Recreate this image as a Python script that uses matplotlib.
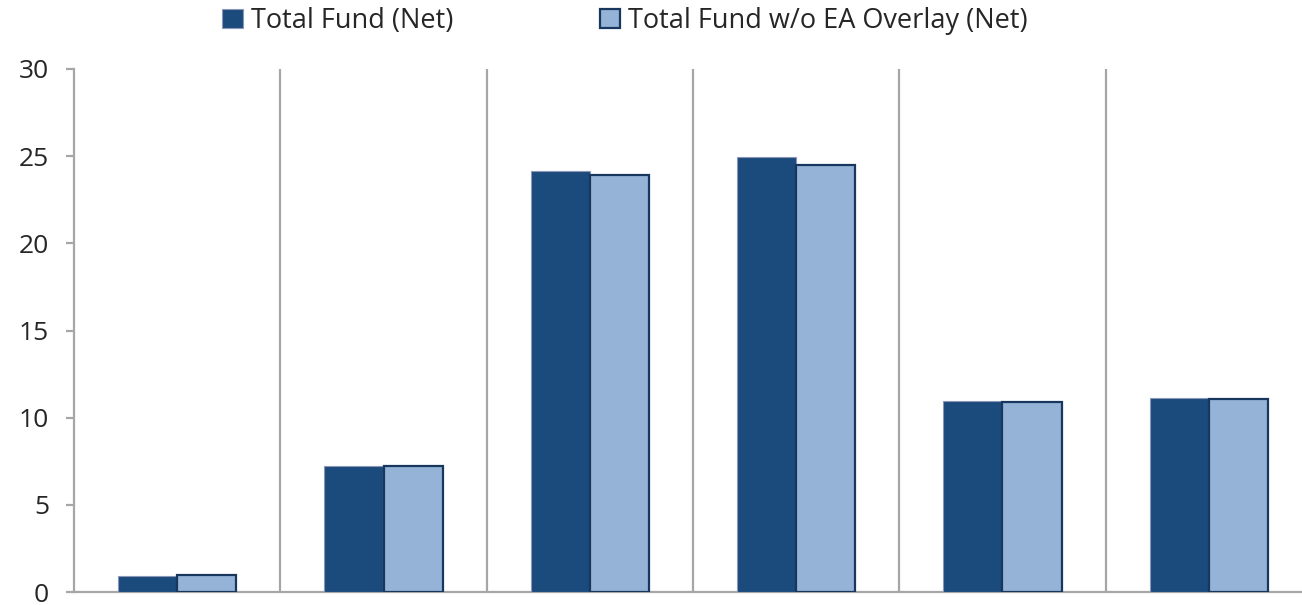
import matplotlib
matplotlib.use("Agg")
import matplotlib.pyplot as plt
import numpy as np
from matplotlib.patches import Patch

plt.rcParams['font.family'] = ['Open Sans', 'DejaVu Sans']

series_names = ["Total Fund (Net)", "Total Fund w/o EA Overlay (Net)"]
categories = ["1", "2", "3", "4", "5", "6"]
total_fund = [0.9, 7.2, 24.15, 24.95, 10.95, 11.1]
total_fund_wo_overlay = [1.0, 7.2, 23.9, 24.5, 10.9, 11.05]
y_ticks = [0, 5, 10, 15, 20, 25, 30]

dark = "#1B4A7C"
light = "#95B3D7"
edge_light = "#17375E"
grey = "#A6A6A6"

fig = plt.figure(figsize=(13.02, 6.05), dpi=100)
ax = fig.add_axes([74 / 1302, (605 - 592) / 605, 1238 / 1302, 523 / 605])

x = np.arange(len(categories))
w = 0.286
ax.bar(x - w / 2, total_fund, width=w, color=dark, edgecolor="#8C97B8", linewidth=0.8, zorder=3)
ax.bar(x + w / 2, total_fund_wo_overlay, width=w, color=light, edgecolor=edge_light, linewidth=1.6, zorder=3)

ax.set_xlim(-0.5, len(categories) - 0.5)
ax.set_ylim(0, 30)
ax.set_yticks(y_ticks)
ax.set_xticks([])

for b in np.arange(0.5, len(categories) - 0.5, 1.0):
    ax.axvline(b, color=grey, linewidth=1.6, zorder=1)

for side in ["top", "right"]:
    ax.spines[side].set_visible(False)
for side in ["left", "bottom"]:
    ax.spines[side].set_color(grey)
    ax.spines[side].set_linewidth(1.6)

ax.tick_params(axis="y", length=6, width=1.6, color=grey, labelsize=19, labelcolor="#262626", pad=12)

handles = [
    Patch(facecolor=dark, edgecolor="#8C97B8", linewidth=0.8),
    Patch(facecolor=light, edgecolor=edge_light, linewidth=1.6),
]
fig.legend(handles, series_names, loc="center", bbox_to_anchor=(625 / 1302, 1 - 21 / 605),
           ncol=2, frameon=False, fontsize=19.5, handlelength=0.75, handleheight=0.75,
           handletextpad=0.3, columnspacing=5.4, labelcolor="#262626")

fig.savefig("out.png", dpi=100)
